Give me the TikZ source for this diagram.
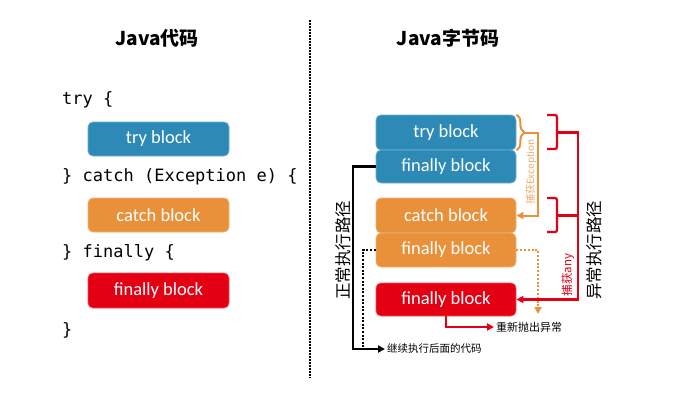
\documentclass[tikz,border=0pt]{standalone}
\usepackage{fontspec}
\usepackage{tikz}
\usetikzlibrary{positioning}
\usetikzlibrary{calc}
\usetikzlibrary{arrows.meta}
\usetikzlibrary{decorations.pathreplacing}
\newfontfamily\cjk{Noto Sans CJK SC}
\newfontfamily\blockfont{Carlito}
\newfontfamily\codefont{DejaVu Sans Mono}
\definecolor{tryblue}{RGB}{45,138,182}
\definecolor{catchorange}{RGB}{232,144,58}
\definecolor{finred}{RGB}{228,0,18}
\definecolor{lightorange}{RGB}{236,172,112}

\begin{document}
\begin{tikzpicture}[x=1pt,y=-1pt]
		\tikzset{
			block/.style={rounded corners=5pt,text=white,inner sep=0pt,
				fill=#1,draw=#1!70!white,line width=0.8pt,
				font=\blockfont\fontsize{18.5}{20}\selectfont,
				minimum width=140pt,minimum height=34pt},
			codeline/.style={anchor=west,inner sep=0pt,font=\codefont\fontsize{17}{20}\selectfont},
			title/.style={font=\cjk\bfseries\fontsize{19}{22}\selectfont},
		}
		\tikzset{
			edge/.style={line width=2.2pt},
			tip/.style={-{Triangle[length=7pt,width=7pt]}},
			note/.style={font=\cjk\fontsize{10.5}{12}\selectfont,inner sep=2pt,anchor=west},
		}
		\useasboundingbox (0,0) rectangle (693,412);
		
		% left: source code
		\node[title] (javaTitle) at (157,38) {Java代码};
		\node[codeline] (codeTry) at (62,100) {try \{};
		\node[block=tryblue,minimum width=141pt] (srcTry) at (158.5,139) {try block};
		\node[codeline] (codeCatch) at (62,177) {\} catch (Exception e) \{};
		\node[block=catchorange,minimum width=141pt] (srcCatch) at (158.5,215) {catch block};
		\node[codeline] (codeFinally) at (62,253) {\} finally \{};
		\node[block=finred,minimum width=141pt,minimum height=35pt] (srcFinally) at (158.5,290.5) {finally block};
		\node[codeline] (codeEnd) at (62,330) {\}};
		
		\draw[line width=2.5pt,dash pattern=on 1.6pt off 1.4pt] (310,20) -- (310,378);
		
		% right: bytecode
		\node[title] (bcTitle) at (448,38) {Java字节码};
		\node[block=tryblue,minimum height=35pt] (bcTry) at (446,132.5) {try block};
		\node[block=tryblue,minimum height=33pt] (bcTryFin) at (446,166.5) {finally block};
		\node[block=catchorange,minimum height=35pt] (bcCatch) at (446,215.5) {catch block};
		\node[block=catchorange,minimum height=34pt] (bcCatchFin) at (446,250) {finally block};
		\node[block=finred,minimum height=33pt] (bcFin) at (446,299.5) {finally block};
		
		\node[note] (txtContinue) at (385,349) {继续执行后面的代码};
		\node[note,font=\cjk\fontsize{11}{12}\selectfont] (txtRethrow) at (494,327) {重新抛出异常};
		\node[rotate=90,font=\cjk\fontsize{16.5}{18}\selectfont] (lblNormal) at (343,250) {正常执行路径};
		\node[rotate=90,font=\cjk\fontsize{16.5}{18}\selectfont] (lblAbnormal) at (594,250) {异常执行路径};
		\node[rotate=90,text=lightorange,font=\cjk\fontsize{10}{12}\selectfont] (lblCatchEx) at (531,172) {捕获Exception};
		\node[rotate=90,text=finred,font=\cjk\fontsize{11.5}{12}\selectfont] (lblCatchAny) at (568,275) {捕获any};
		
		\coordinate (dotJoin) at (363,349);
		\coordinate (rethrowTip) at (538,314);
		\coordinate (exTip) at (524,132.5);
		\coordinate (anyTop) at (578,132.5);
		
		% normal path
		\draw[edge,tip] (bcTryFin.west) -- ++(-23,0) |- (txtContinue.west);
		\draw[edge,dash pattern=on 2pt off 1.6pt] (bcCatchFin.west) -| (dotJoin);
		
		% exception path
		\draw[edge,line width=2pt,color=catchorange,decorate,decoration={brace,amplitude=8pt}] (bcTry.north east) -- (bcTry.south east);
		\draw[edge,line width=2pt,color=catchorange,tip] (exTip) -- ++(14,0) |- (bcCatch.east);
		\draw[edge,color=catchorange,dash pattern=on 2pt off 1.8pt,tip] (bcCatchFin.east) -| (rethrowTip);
		
		\draw[edge,color=finred,rounded corners=2pt] (547,115) -- (557,115) -- (557,149) -- (547,149);
		\draw[edge,color=finred,rounded corners=2pt] (547,198) -- (557,198) -- (557,232) -- (547,232);
		\draw[edge,color=finred] (557,215.5) -- (578,215.5);
		\draw[edge,color=finred,tip] (557,132.5) -- (anyTop) |- (bcFin.east);
		\draw[edge,color=finred,tip] (bcFin.south) |- (txtRethrow.west);
	\end{tikzpicture}
\end{document}
